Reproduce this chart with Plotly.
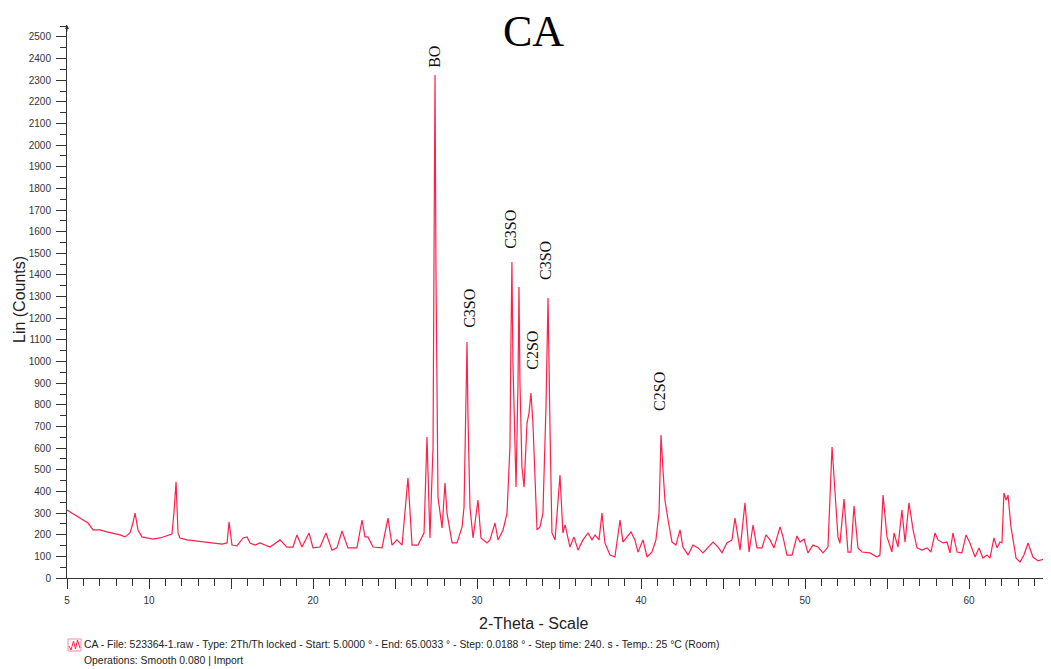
import plotly.graph_objects as go

# Traced diffractogram (2-theta in degrees, counts)
two_theta = [
    5.00, 5.18, 5.49, 5.79, 6.28, 6.59, 7.01, 7.44, 7.80, 8.23, 8.54, 8.84, 9.02, 9.15, 9.33, 9.57,
    9.88, 10.24, 10.67, 11.10, 11.40, 11.52, 11.65, 11.77, 11.89, 12.32, 12.93, 13.54, 14.15, 14.45,
    14.76, 14.88, 15.06, 15.37, 15.73, 15.98, 16.16, 16.46, 16.77, 17.38, 17.99, 18.41, 18.78, 19.02,
    19.33, 19.76, 20.00, 20.43, 20.79, 21.16, 21.46, 21.77, 22.13, 22.68, 22.99, 23.17, 23.35, 23.66,
    24.21, 24.57, 24.82, 25.12, 25.43, 25.79, 26.04, 26.40, 26.77, 26.95, 27.13, 27.32, 27.38, 27.44,
    27.50, 27.62, 27.87, 28.05, 28.17, 28.48, 28.78, 29.09, 29.21, 29.33, 29.39, 29.45, 29.57, 29.76,
    30.06, 30.24, 30.61, 30.79, 31.10, 31.28, 31.59, 31.83, 32.01, 32.07, 32.13, 32.19, 32.38, 32.50,
    32.56, 32.62, 32.74, 32.87, 33.05, 33.17, 33.29, 33.41, 33.66, 33.84, 34.02, 34.21, 34.33, 34.45,
    34.57, 34.76, 35.06, 35.24, 35.37, 35.67, 35.91, 36.16, 36.46, 36.77, 37.01, 37.20, 37.44, 37.62,
    37.80, 38.11, 38.41, 38.72, 38.90, 39.15, 39.39, 39.63, 39.82, 40.12, 40.37, 40.67, 40.91, 41.10,
    41.22, 41.34, 41.46, 41.65, 41.89, 42.13, 42.38, 42.56, 42.87, 43.17, 43.48, 43.78, 44.09, 44.39,
    44.70, 44.94, 45.24, 45.55, 45.73, 46.04, 46.34, 46.59, 46.83, 47.07, 47.38, 47.62, 47.87, 48.11,
    48.48, 48.66, 48.90, 49.21, 49.51, 49.70, 49.94, 50.18, 50.49, 50.79, 51.10, 51.40, 51.65, 51.83,
    52.01, 52.13, 52.38, 52.62, 52.80, 52.99, 53.23, 53.48, 53.96, 54.39, 54.57, 54.76, 55.00, 55.30,
    55.43, 55.67, 55.91, 56.10, 56.34, 56.59, 56.83, 57.13, 57.44, 57.68, 57.93, 58.11, 58.41, 58.66,
    58.84, 59.02, 59.27, 59.57, 59.82, 60.06, 60.37, 60.61, 60.85, 61.10, 61.28, 61.52, 61.71, 61.89,
    62.01, 62.13, 62.26, 62.38, 62.56, 62.87, 63.11, 63.35, 63.60, 63.90, 64.21, 64.63, 64.94,
]
counts = [
    314, 305, 291, 277, 254, 222, 222, 213, 208, 199, 190, 208, 254, 300, 222, 190,
    185, 180, 185, 194, 203, 300, 444, 208, 185, 176, 171, 166, 162, 157,
    162, 259, 152, 148, 185, 190, 162, 152, 162, 143, 176, 143, 143, 199,
    143, 208, 139, 143, 208, 129, 139, 217, 139, 139, 268, 190, 190, 143,
    139, 277, 152, 176, 152, 462, 152, 152, 208, 651, 185, 605, 1500, 2324,
    1400, 374, 231, 439, 300, 162, 162, 236, 328, 750, 1090, 750, 328, 185,
    360, 185, 162, 176, 254, 176, 222, 300, 605, 1100, 1460, 1000, 420, 900,
    1345, 900, 513, 420, 716, 762, 855, 716, 222, 236, 300, 800, 1294, 700,
    208, 176, 476, 208, 245, 143, 190, 129, 176, 208, 176, 199, 176, 300,
    162, 106, 97, 268, 166, 190, 213, 176, 120, 176, 97, 120, 176, 300,
    661, 500, 360, 268, 166, 152, 222, 143, 106, 152, 139, 116, 143, 166,
    143, 116, 162, 176, 277, 129, 347, 120, 245, 139, 139, 199, 176, 139,
    236, 190, 106, 106, 194, 166, 180, 116, 152, 143, 116, 143, 605, 420,
    190, 160, 365, 120, 120, 333, 139, 120, 116, 97, 106, 383, 190, 120,
    208, 143, 314, 166, 347, 222, 139, 129, 139, 120, 208, 176, 162, 166,
    116, 208, 120, 116, 199, 162, 97, 139, 92, 106, 92, 185, 139, 166,
    162, 393, 360, 383, 236, 92, 74, 106, 162, 97, 79, 88, 83,
]

# Phase labels
peak_labels = ["BO", "C3SO", "C3SO", "C2SO", "C3SO", "C2SO"]
label_2theta = [27.44, 29.57, 32.07, 33.41, 34.21, 41.16]
label_counts = [2408, 1248, 1613, 1054, 1465, 860]

x_tick_vals = [5, 10, 15, 20, 25, 30, 35, 40, 45, 50, 55, 60]
x_tick_text = ["5", "10", "", "20", "", "30", "", "40", "", "50", "", "60"]
y_tick_vals = list(range(0, 2600, 100))

LINE = "#ff1f4c"
AX = "#333333"

# page body margin of 8px is compensated in the figure size/margins
W, H = 1043, 661
L, R, T, B = 59, 0, 17, 91
PW = W - L - R
PH = H - T - B


def px(xp):
    return (xp - 8 - L) / PW


def py(yp):
    return (H - B - (yp - 8)) / PH


fig = go.Figure()
fig.add_trace(go.Scatter(x=two_theta, y=counts, mode="lines",
                         line=dict(color=LINE, width=1.2), showlegend=False,
                         hoverinfo="skip"))

for t, x, y in zip(peak_labels, label_2theta, label_counts):
    fig.add_annotation(x=x, y=y, text=t, showarrow=False, textangle=-90,
                       font=dict(family="Liberation Serif", size=16, color="#111111"),
                       xanchor="center", yanchor="middle")

# title
fig.add_annotation(xref="paper", yref="paper", x=px(533), y=py(31),
                   text="CA", showarrow=False,
                   font=dict(family="Liberation Serif", size=44, color="#000000"),
                   xanchor="center", yanchor="middle")
# axis titles
fig.add_annotation(xref="paper", yref="paper", x=px(19), y=py(300),
                   text="Lin (Counts)", showarrow=False, textangle=-90,
                   font=dict(family="Liberation Sans", size=16, color="#222222"),
                   xanchor="center", yanchor="middle")
fig.add_annotation(xref="paper", yref="paper", x=px(533), y=py(623),
                   text="2-Theta - Scale", showarrow=False,
                   font=dict(family="Liberation Sans", size=16, color="#222222"),
                   xanchor="center", yanchor="middle")
# footer text
fig.add_annotation(xref="paper", yref="paper", x=px(82), y=py(645),
                   text="CA - File: 523364-1.raw - Type: 2Th/Th locked - Start: 5.0000 ° - End: 65.0033 ° - Step: 0.0188 ° - Step time: 240. s - Temp.: 25 °C (Room)",
                   showarrow=False, font=dict(family="Liberation Sans", size=10.4, color="#222222"),
                   xanchor="left", yanchor="middle")
fig.add_annotation(xref="paper", yref="paper", x=px(82), y=py(660),
                   text="Operations: Smooth 0.080 | Import",
                   showarrow=False, font=dict(family="Liberation Sans", size=10.4, color="#222222"),
                   xanchor="left", yanchor="middle")
# legend icon
fig.add_shape(type="rect", xref="paper", yref="paper",
              x0=px(68), x1=px(81), y0=py(651), y1=py(639),
              line=dict(color="#ff8aa0", width=1), fillcolor="rgba(0,0,0,0)")
fig.add_shape(type="path", xref="paper", yref="paper",
              path="M {} {} L {} {} L {} {} L {} {} L {} {} L {} {}".format(
                  px(69), py(646), px(71), py(650), px(73.5), py(641),
                  px(75.5), py(649), px(77.5), py(640), px(80), py(648)),
              line=dict(color=LINE, width=1))
# axis arrows
fig.add_annotation(xref="paper", yref="paper", x=0, y=1.0, ax=0, ay=8, text="",
                   showarrow=True, arrowhead=2, arrowsize=0.8, arrowwidth=1, arrowcolor=AX)
fig.add_annotation(xref="paper", yref="paper", x=1.0, y=0, ax=-8, ay=0, text="",
                   showarrow=True, arrowhead=2, arrowsize=0.8, arrowwidth=1, arrowcolor=AX)

fig.update_layout(
    width=W, height=H,
    margin=dict(l=L, r=R, t=T, b=B),
    paper_bgcolor="white", plot_bgcolor="white",
    xaxis=dict(range=[5, 65], showgrid=False, zeroline=False, showline=True,
               linecolor=AX, linewidth=1, ticks="outside", ticklen=10, tickcolor=AX,
               tickmode="array", tickvals=x_tick_vals, ticktext=x_tick_text,
               ticklabelstandoff=3,
               tickfont=dict(family="Liberation Sans", size=10, color="#333333"),
               minor=dict(tickmode="linear", tick0=5, dtick=1, ticks="outside",
                          ticklen=7, tickcolor=AX, showgrid=False)),
    yaxis=dict(range=[0, 2555], showgrid=False, zeroline=False, showline=True,
               linecolor=AX, linewidth=1, ticks="outside", ticklen=10, tickcolor=AX,
               tickmode="array", tickvals=y_tick_vals, ticklabelstandoff=3,
               tickfont=dict(family="Liberation Sans", size=10, color="#333333"),
               minor=dict(tickmode="linear", tick0=0, dtick=50, ticks="outside",
                          ticklen=6, tickcolor=AX, showgrid=False)),
)

fig.write_html("out.html")
